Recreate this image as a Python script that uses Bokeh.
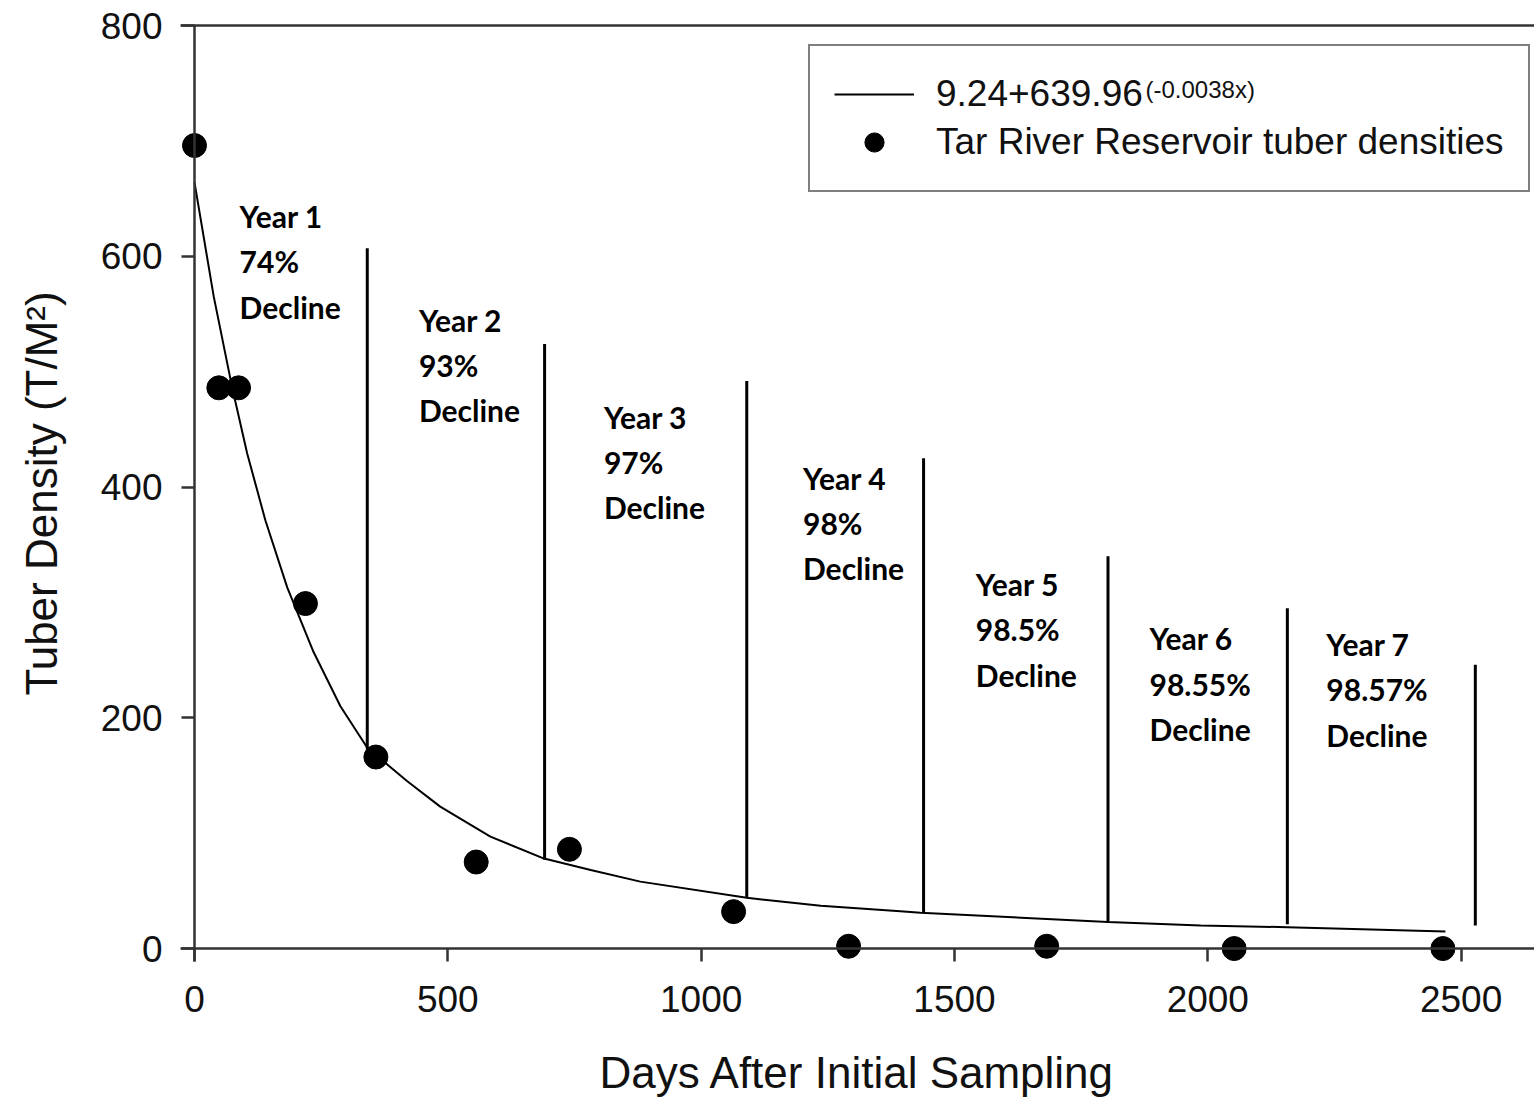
from bokeh.plotting import figure
from bokeh.models import LinearAxis, FixedTicker, Legend, LegendItem, Label, Range1d
from bokeh.core.properties import value
from bokeh.embed import file_html
from bokeh.resources import INLINE

# Sampled tuber densities (tubers per m^2) by days after the first sampling
days = [0, 48, 87, 219, 358, 556, 740, 1064, 1291, 1682, 2052, 2464]
density = [696, 486, 486, 299, 166, 75, 86, 32, 2, 2, 0, 0]

# Fitted decay curve
fit_days = [0, 38, 74, 104, 140, 183, 235, 288, 341, 420, 485, 584, 690, 782,
            880, 1090, 1236, 1393, 1433, 1803, 1986, 2157, 2469]
fit_density = [664, 565, 487, 429, 371, 313, 257, 210, 174, 145, 123, 97, 78, 68,
               58, 44, 37, 32.3, 31, 23, 20, 18.5, 14.7]

# Year boundaries (vertical markers) and their extents
boundary_days = [341, 691, 1090, 1439, 1803, 2157, 2528]
boundary_top = [607, 524, 492, 425, 340, 295, 246]
boundary_bottom = [173, 77, 44, 31, 23, 21, 20]

# Year annotations
year_labels = ["Year 1", "Year 2", "Year 3", "Year 4", "Year 5", "Year 6", "Year 7"]
decline_labels = ["74%", "93%", "97%", "98%", "98.5%", "98.55%", "98.57%"]
label_x = [89, 443, 808, 1201, 1542, 1885, 2234]
label_y = [635, 545, 461, 408, 316, 269, 264]

x_ticks = [0, 500, 1000, 1500, 2000, 2500]
y_ticks = [0, 200, 400, 600, 800]

X_LO, X_HI = -27.6, 2645.0   # extent of the drawn x axis line
Y_LO, Y_HI = -11.3, 800.0    # extent of the drawn y axis line

p = figure(width=1534, height=1103,
           x_range=Range1d(-382.9, 2644.8), y_range=Range1d(-134.3, 821.7),
           output_backend="svg", toolbar_location=None,
           x_axis_location=None, y_axis_location=None,
           min_border_left=0, min_border_right=0,
           min_border_top=0, min_border_bottom=0)
p.outline_line_color = None
p.background_fill_color = "white"
p.border_fill_color = "white"
p.grid.grid_line_color = None

axis_color = "#333333"
font = "Liberation Sans"

xaxis = LinearAxis(ticker=FixedTicker(ticks=x_ticks), fixed_location=0,
                   bounds=(X_LO, X_HI), axis_label="Days After Initial Sampling")
yaxis = LinearAxis(ticker=FixedTicker(ticks=y_ticks), fixed_location=0,
                   bounds=(Y_LO, Y_HI), axis_label="Tuber Density (T/M\u00b2)")
for ax in (xaxis, yaxis):
    ax.axis_line_color = axis_color
    ax.axis_line_width = 2.5
    ax.major_tick_line_color = axis_color
    ax.major_tick_line_width = 2.5
    ax.major_tick_out = 13
    ax.major_tick_in = 0
    ax.minor_tick_line_color = None
    ax.major_label_text_font = font
    ax.major_label_text_font_size = "37px"
    ax.major_label_text_color = "#111111"
    ax.axis_label_text_font = font
    ax.axis_label_text_font_style = "normal"
    ax.axis_label_text_color = "#111111"
xaxis.axis_label_text_font_size = "44px"
yaxis.axis_label_text_font_size = "44px"
xaxis.major_label_standoff = 24
xaxis.axis_label_standoff = 33
yaxis.major_label_standoff = 19
yaxis.axis_label_standoff = 32
p.add_layout(xaxis, "below")
p.add_layout(yaxis, "left")

# Top frame line
top = LinearAxis(ticker=FixedTicker(ticks=[]), fixed_location=Y_HI, bounds=(X_LO, X_HI),
                 major_label_text_font_size="0px",
                 axis_line_color=axis_color, axis_line_width=2.5,
                 major_tick_line_color=None, minor_tick_line_color=None)
p.add_layout(top, "above")

# Fitted curve and observations
fit = p.line(fit_days, fit_density, line_color="black", line_width=2)
pts = p.scatter(days, density, size=24, color="black")

# Year boundary markers
p.segment(x0=boundary_days, y0=boundary_bottom, x1=boundary_days, y1=boundary_top,
          line_color="black", line_width=3)

# Three-line annotations for each year
step = 39.3
text_style = dict(text_font=value("Lato"), text_font_style="bold",
                  text_font_size="30px", text_color="black",
                  text_align="left", text_baseline="middle")
p.text(x=label_x, y=label_y, text=year_labels, **text_style)
p.text(x=label_x, y=[v - step for v in label_y], text=decline_labels, **text_style)
p.text(x=label_x, y=[v - 2 * step for v in label_y], text=["Decline"] * 7, **text_style)

legend = Legend(items=[LegendItem(label="9.24+639.96", renderers=[fit]),
                       LegendItem(label="Tar River Reservoir tuber densities", renderers=[pts])],
                location=(808, 911), margin=0, padding=24, spacing=0,
                glyph_width=80, glyph_height=48, label_height=48, label_standoff=22,
                label_text_font=font, label_text_font_size="37px",
                label_text_color="#111111",
                border_line_color="black", border_line_width=2.5,
                background_fill_alpha=0.0)
p.add_layout(legend)

p.add_layout(Label(x=1145, y=1014, x_units="screen", y_units="screen",
                   text="(-0.0038x)", text_font=font, text_font_size="24px",
                   text_color="#111111", text_baseline="middle"))

open("out.html", "w").write(file_html(p, INLINE))
